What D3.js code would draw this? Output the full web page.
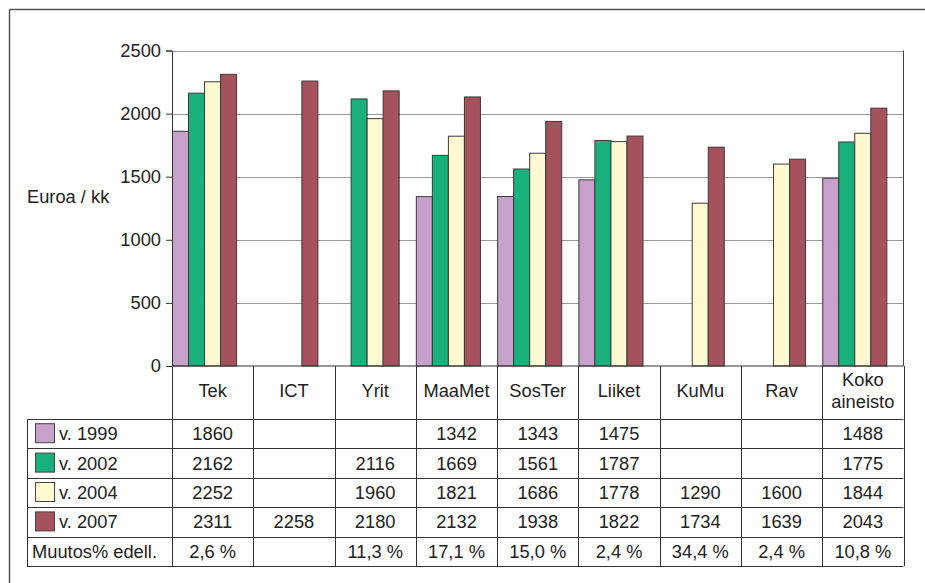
<!DOCTYPE html>
<html>
<head>
<meta charset="utf-8">
<script src="https://cdn.jsdelivr.net/npm/d3@7"></script>
<style>
    html, body { margin: 0; padding: 0; background: #fff; overflow: hidden; }
    svg { display: block; overflow: hidden; font-family: "Liberation Sans", Arial, sans-serif; }
</style>
</head>
<body>
<div id="chart"></div>
<script>
// chart data
var categories = ["Tek", "ICT", "Yrit", "MaaMet", "SosTer", "Liiket", "KuMu", "Rav", "Koko aineisto"];
var seriesNames = ["v. 1999", "v. 2002", "v. 2004", "v. 2007"];
var v1999 = [1860, null, null, 1342, 1343, 1475, null, null, 1488];
var v2002 = [2162, null, 2116, 1669, 1561, 1787, null, null, 1775];
var v2004 = [2252, null, 1960, 1821, 1686, 1778, 1290, 1600, 1844];
var v2007 = [2311, 2258, 2180, 2132, 1938, 1822, 1734, 1639, 2043];
var changeLabel = "Muutos% edell.";
var change = ["2,6 %", "", "11,3 %", "17,1 %", "15,0 %", "2,4 %", "34,4 %", "2,4 %", "10,8 %"];
var yTicks = [0, 500, 1000, 1500, 2000, 2500];
var yLabel = "Euroa / kk";

var seriesValues = [v1999, v2002, v2004, v2007];
var colors = ["#c8a0cc", "#1ab07c", "#fffad2", "#a5525c"];
var fontSize = 18.3;

var width = 925, height = 583;
var svg = d3.select("#chart").append("svg")
    .attr("width", width)
    .attr("height", height);

svg.append("rect")
    .attr("width", width).attr("height", height)
    .attr("fill", "#fff");

// outer frame: only left and top edges fall inside the picture
var frame = svg.append("g").attr("stroke", "#555").attr("stroke-width", 1.5);
frame.append("line").attr("x1", 9.5).attr("x2", width).attr("y1", 9.5).attr("y2", 9.5);
frame.append("line").attr("x1", 9.5).attr("x2", 9.5).attr("y1", 9.5).attr("y2", height);

var plot = {left: 172, right: 903.5, top: 50.5, bottom: 366};

var x = d3.scaleBand()
    .domain(categories)
    .range([plot.left, plot.right])
    .paddingInner(0).paddingOuter(0);

var x1 = d3.scaleBand()
    .domain(seriesNames)
    .range([0.5, x.bandwidth() * 0.795]);

var y = d3.scaleLinear()
    .domain([0, 2500])
    .range([plot.bottom, plot.top]);

// gridlines
svg.append("g")
    .selectAll("line")
    .data(yTicks.filter(function(d){ return d > 0; })).enter()
    .append("line")
    .attr("x1", plot.left).attr("x2", plot.right)
    .attr("y1", function(d){ return Math.round(y(d)) + 0.5; })
    .attr("y2", function(d){ return Math.round(y(d)) + 0.5; })
    .attr("stroke", "#9a9a9a")
    .attr("stroke-width", 1);

// right border of plot
svg.append("line")
    .attr("x1", plot.right).attr("x2", plot.right)
    .attr("y1", plot.top).attr("y2", plot.bottom)
    .attr("stroke", "#444");

// bars
var bars = [];
categories.forEach(function(c, i){
    seriesNames.forEach(function(s, j){
        var v = seriesValues[j][i];
        if (v != null) bars.push({cat: c, series: s, idx: j, value: v});
    });
});

svg.append("g")
    .selectAll("rect")
    .data(bars).enter()
    .append("rect")
    .attr("x", function(d){ return x(d.cat) + x1(d.series); })
    .attr("y", function(d){ return y(d.value); })
    .attr("width", x1.bandwidth())
    .attr("height", function(d){ return plot.bottom - y(d.value); })
    .attr("fill", function(d){ return colors[d.idx]; })
    .attr("stroke", "#3a3a3a")
    .attr("stroke-width", 1);

// y axis
var yAxis = svg.append("g")
    .attr("transform", "translate(" + plot.left + ",0)")
    .call(d3.axisLeft(y).tickValues(yTicks).tickSize(6).tickPadding(5).tickFormat(d3.format("d")));
yAxis.select(".domain").attr("stroke", "#333");
yAxis.selectAll(".tick line").attr("stroke", "#333");
yAxis.selectAll(".tick text")
    .attr("font-family", "'Liberation Sans', Arial, sans-serif")
    .attr("font-size", fontSize)
    .attr("fill", "#222");

svg.append("text")
    .attr("x", 27).attr("y", 197)
    .attr("dy", "0.35em")
    .attr("font-size", fontSize)
    .attr("fill", "#222")
    .text(yLabel);

// data table
var rowLabels = seriesNames.concat([changeLabel]);
var tableLeft = 27;
var row = d3.scaleBand()
    .domain(rowLabels)
    .range([419, 566]);

var table = svg.append("g").attr("stroke", "#333").attr("stroke-width", 1);

// header row top (axis line)
table.append("line")
    .attr("x1", plot.left).attr("x2", plot.right)
    .attr("y1", plot.bottom).attr("y2", plot.bottom);

// horizontal row lines
table.selectAll(".hline")
    .data(rowLabels.map(function(r){ return row(r); }).concat([row.range()[1]])).enter()
    .append("line")
    .attr("x1", tableLeft).attr("x2", plot.right)
    .attr("y1", function(d){ return Math.round(d) + 0.5; })
    .attr("y2", function(d){ return Math.round(d) + 0.5; });

// vertical column lines
var colEdges = categories.map(function(c){ return x(c); }).concat([plot.right]);
table.selectAll(".vline")
    .data(colEdges).enter()
    .append("line")
    .attr("x1", function(d){ return Math.round(d) + 0.5; })
    .attr("x2", function(d){ return Math.round(d) + 0.5; })
    .attr("y1", plot.bottom).attr("y2", row.range()[1]);

table.append("line")
    .attr("x1", tableLeft + 0.5).attr("x2", tableLeft + 0.5)
    .attr("y1", row.range()[0]).attr("y2", row.range()[1]);

// header labels
var header = svg.append("g")
    .attr("font-size", fontSize).attr("fill", "#222").attr("text-anchor", "middle");
categories.forEach(function(c){
    var words = c.split(" ");
    var cx = x(c) + x.bandwidth() / 2;
    var t = header.append("text").attr("x", cx);
    if (words.length === 1) {
        t.attr("y", 391).attr("dy", "0.35em").text(c);
    } else {
        words.forEach(function(w, k){
            t.append("tspan").attr("x", cx).attr("y", 380 + k * 21.5).attr("dy", "0.35em").text(w);
        });
    }
});

// legend cells
var legend = svg.append("g").attr("font-size", fontSize).attr("fill", "#222");
seriesNames.forEach(function(s, j){
    var cy = row(s) + row.bandwidth() / 2;
    legend.append("rect")
        .attr("x", 35.5).attr("y", cy - 10)
        .attr("width", 19).attr("height", 19)
        .attr("fill", colors[j])
        .attr("stroke", "#444");
    legend.append("text")
        .attr("x", 59).attr("y", cy).attr("dy", "0.35em")
        .text(s);
});
legend.append("text")
    .attr("x", 32).attr("y", row(changeLabel) + row.bandwidth() / 2).attr("dy", "0.35em")
    .text(changeLabel);

// cell values
var cells = svg.append("g").attr("font-size", fontSize).attr("fill", "#222").attr("text-anchor", "middle");
seriesNames.forEach(function(s, j){
    categories.forEach(function(c, i){
        var v = seriesValues[j][i];
        if (v == null) return;
        cells.append("text")
            .attr("x", x(c) + x.bandwidth() / 2)
            .attr("y", row(s) + row.bandwidth() / 2)
            .attr("dy", "0.35em")
            .text(v);
    });
});
categories.forEach(function(c, i){
    cells.append("text")
        .attr("x", x(c) + x.bandwidth() / 2)
        .attr("y", row(changeLabel) + row.bandwidth() / 2)
        .attr("dy", "0.35em")
        .text(change[i]);
});
</script>
</body>
</html>
